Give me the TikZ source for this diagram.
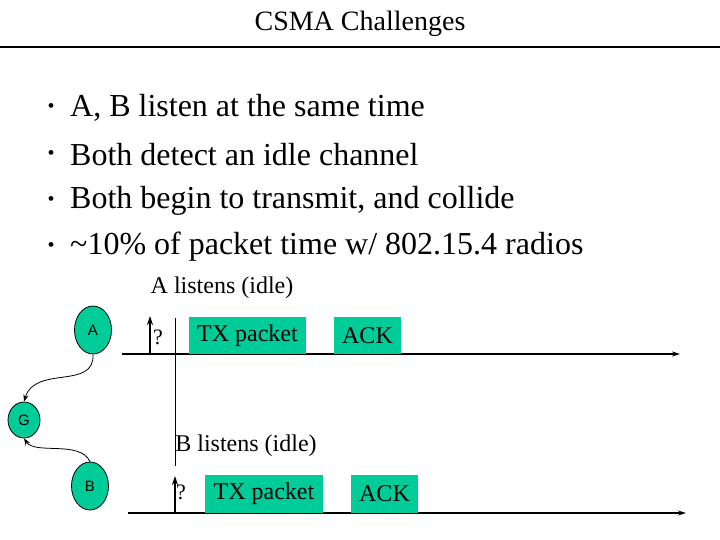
\documentclass[tikz,border=0pt]{standalone}
\usepackage{fontspec}
\setmainfont{Liberation Serif}
\setsansfont{Liberation Sans}
\usetikzlibrary{positioning,shapes.geometric,arrows.meta}
\definecolor{slotgreen}{RGB}{0,204,153}
\begin{document}
\begin{tikzpicture}[x=1pt,y=-1pt,
    station/.style={ellipse,draw,thick,fill=slotgreen,inner sep=0pt,font=\sffamily\fontsize{15}{15}\selectfont},
    slot/.style={fill=slotgreen,inner sep=0pt,font=\fontsize{24}{24}\selectfont},
    timeline/.style={-{Stealth[length=8pt,width=5pt]},line width=1.5pt},
    sense/.style={-{Stealth[length=9pt,width=6pt]},line width=2.5pt}]
\useasboundingbox (0,0) rectangle (720,540);

% Title
\node (title) at (360,24) {\fontsize{28}{28}\selectfont CSMA Challenges};
\draw[line width=2.5pt] (0,47) -- (720,47);

% Bullets
\foreach \y/\t in {108/{A, B listen at the same time},
                   155/{Both detect an idle channel},
                   201/{Both begin to transmit, and collide},
                   247/{\textasciitilde10\% of packet time w/ 802.15.4 radios}} {
    \node[anchor=west,font=\fontsize{20}{20}\selectfont] at (44,\y) {\textbullet};
    \node[anchor=west,font=\fontsize{32}{32}\selectfont,inner sep=0pt] at (70,\y) {\t};
}

% Stations
\node[station,minimum width=37,minimum height=48] (A) at (93,330) {A};
\node[station,minimum width=32,minimum height=36] (G) at (24,420) {G};
\node[station,minimum width=37,minimum height=48] (B) at (90,486) {B};
\draw[-{Stealth[length=7pt]},thick] (A.south) .. controls (95,390) and (35,365) .. (G.north);
\draw[-{Stealth[length=7pt]},thick] (B.north) .. controls (80,440) and (35,455) .. (G.south);

% Time lines
\coordinate (a0) at (122,354);
\coordinate (a1) at (680,354);
\coordinate (b0) at (128,513);
\coordinate (b1) at (686,513);
\draw[timeline] (a0) -- (a1);
\draw[timeline] (b0) -- (b1);

\node[font=\fontsize{24}{24}\selectfont] (alisten) at (222,288) {A listens (idle)};
\node[font=\fontsize{24}{24}\selectfont] (blisten) at (246,446) {B listens (idle)};
\draw (175,318) -- (175,466);

% Carrier sense
\coordinate (as) at (150,354);
\coordinate (ae) at (150,316);
\coordinate (bs) at (175,513);
\coordinate (be) at (175,476);
\draw[sense] (as) -- (ae);
\draw[sense] (bs) -- (be);
\node[font=\fontsize{22}{22}\selectfont] (aq) at (158,337) {?};
\node[font=\fontsize{22}{22}\selectfont] (bq) at (181,492) {?};

% Slots
\node[slot,minimum width=117,minimum height=37] (atx) at (247.5,335.5) {TX packet};
\node[slot,minimum width=67,minimum height=37] (aack) at (367.5,335.5) {ACK};
\node[slot,minimum width=118,minimum height=38] (btx) at (264,494) {TX packet};
\node[slot,minimum width=67,minimum height=38] (back) at (384.5,494) {ACK};
\end{tikzpicture}
\end{document}
